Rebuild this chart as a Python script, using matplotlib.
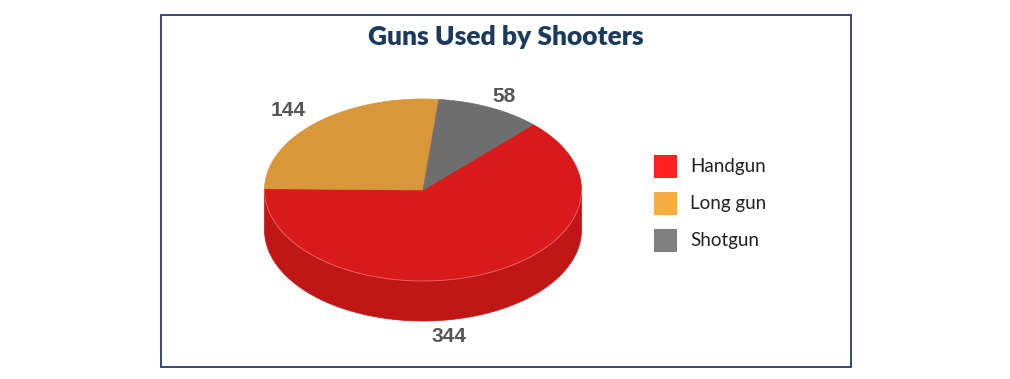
"""3D-style pie: guns used by shooters."""

import numpy as np
import matplotlib
matplotlib.use("Agg")
import matplotlib.pyplot as plt
from matplotlib.patches import Polygon, Rectangle

# --- data -------------------------------------------------------------------
categories = ["Handgun", "Long gun", "Shotgun"]
counts = [344, 144, 58]
top_colors = ["#D91A1A", "#D9963A", "#6E6E6E"]
side_colors = ["#BE1716", "#B97C2E", "#5A5A5A"]
legend_colors = ["#FF2020", "#FBAC43", "#808080"]

# --- geometry (pixels, y down) ----------------------------------------------
W, H = 1010, 379
CX, CY = 423, 190      # pie centre on the top face
RA, RB = 158.5, 91     # ellipse semi-axes
DEPTH = 40             # thickness of the pie
START = 46.0           # handgun begins here, slices go clockwise


def pt(theta_deg, dy=0.0):
    t = np.radians(theta_deg)
    return CX + RA * np.cos(t), CY - RB * np.sin(t) + dy


def arc(t1, t2, dy=0.0, n=120):
    ts = np.linspace(t1, t2, n)
    return [pt(t, dy) for t in ts]


fig = plt.figure(figsize=(W / 100, H / 100), dpi=100)
ax = fig.add_axes([0, 0, 1, 1])
ax.set_xlim(0, W)
ax.set_ylim(H, 0)
ax.axis("off")

# frame
ax.add_patch(Rectangle((161, 15), 690, 352, fill=False,
                       edgecolor="#2B3A67", lw=1.3))

total = float(sum(counts))
spans = [c / total * 360.0 for c in counts]

# slice angle ranges, clockwise from START (stored as increasing ranges)
ranges = []
end = START
for s in spans:
    ranges.append((end - s, end))
    end -= s

# side walls: only the front half (180..360 deg) is visible
for (a1, a2), col in zip(ranges, side_colors):
    for k in (-1, 0, 1):
        lo = max(a1, 180 + 360 * k)
        hi = min(a2, 360 + 360 * k)
        if hi <= lo:
            continue
        top = arc(lo, hi)
        bot = arc(hi, lo, DEPTH)
        ax.add_patch(Polygon(top + bot, closed=True, facecolor=col,
                             edgecolor=col, lw=0.5))

# top faces
for (a1, a2), col in zip(ranges, top_colors):
    poly = [(CX, CY)] + arc(a1, a2)
    ax.add_patch(Polygon(poly, closed=True, facecolor=col,
                         edgecolor=col, lw=0.5))

# faint highlight along the front rim
rim = np.array(arc(180, 360))
ax.plot(rim[:, 0], rim[:, 1], color="#E66A6A", lw=0.6)

# data labels
label_pos = [(449, 337), (288, 110), (504, 97)]
for (x, y), c in zip(label_pos, counts):
    ax.text(x, y, str(c), ha="center", va="center", fontsize=15,
            fontweight="bold", color="#555555", family="Liberation Sans")

# title
ax.text(506, 37, "Guns Used by Shooters", ha="center", va="center",
        fontsize=19, fontweight="heavy", color="#1B3A5C", family="Lato")

# legend
for i, (name, col) in enumerate(zip(categories, legend_colors)):
    y = 155 + 37 * i
    ax.add_patch(Rectangle((654, y), 23, 23, facecolor=col, edgecolor="none"))
    ax.text(690, y + 11.5, name, ha="left", va="center", fontsize=13.5,
            color="#222222", family="Lato")

fig.savefig("out.png", dpi=100)
